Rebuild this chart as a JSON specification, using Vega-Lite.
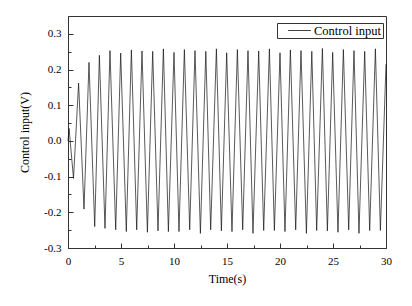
{
  "$schema": "https://vega.github.io/schema/vega-lite/v6.json",
  "width": 318,
  "height": 232,
  "autosize": {"type": "none"},
  "padding": {"left": 68, "top": 16, "right": 26, "bottom": 58},
  "background": "white",
  "config": {
    "view": {"stroke": "#333", "strokeWidth": 1},
    "font": "Liberation Serif"
  },
  "data": {
    "values": [
      {"t": 0, "v": 0.0}, {"t": 0.1, "v": 0.035}, {"t": 0.52, "v": -0.105}, {"t": 1.0, "v": 0.162},
      {"t": 1.51, "v": -0.191}, {"t": 1.98, "v": 0.22}, {"t": 2.52, "v": -0.24}, {"t": 2.96, "v": 0.24},
      {"t": 3.49, "v": -0.245}, {"t": 3.96, "v": 0.253}, {"t": 4.5, "v": -0.249}, {"t": 4.97, "v": 0.246},
      {"t": 5.5, "v": -0.254}, {"t": 5.98, "v": 0.255}, {"t": 6.48, "v": -0.249}, {"t": 6.98, "v": 0.252},
      {"t": 7.49, "v": -0.256}, {"t": 7.99, "v": 0.251}, {"t": 8.49, "v": -0.252}, {"t": 9.0, "v": 0.258},
      {"t": 9.47, "v": -0.254}, {"t": 10.0, "v": 0.248}, {"t": 10.47, "v": -0.254}, {"t": 10.98, "v": 0.256},
      {"t": 11.48, "v": -0.249}, {"t": 11.98, "v": 0.253}, {"t": 12.49, "v": -0.259}, {"t": 13.0, "v": 0.251},
      {"t": 13.46, "v": -0.249}, {"t": 14.0, "v": 0.258}, {"t": 14.47, "v": -0.252}, {"t": 14.97, "v": 0.247},
      {"t": 15.47, "v": -0.254}, {"t": 15.98, "v": 0.256}, {"t": 16.48, "v": -0.249}, {"t": 16.98, "v": 0.253},
      {"t": 17.45, "v": -0.259}, {"t": 17.99, "v": 0.252}, {"t": 18.46, "v": -0.251}, {"t": 19.0, "v": 0.258},
      {"t": 19.47, "v": -0.251}, {"t": 20.0, "v": 0.247}, {"t": 20.47, "v": -0.254}, {"t": 20.98, "v": 0.255},
      {"t": 21.48, "v": -0.249}, {"t": 21.98, "v": 0.253}, {"t": 22.49, "v": -0.259}, {"t": 23.0, "v": 0.251},
      {"t": 23.46, "v": -0.251}, {"t": 24.0, "v": 0.259}, {"t": 24.47, "v": -0.252}, {"t": 24.97, "v": 0.248},
      {"t": 25.47, "v": -0.256}, {"t": 25.98, "v": 0.256}, {"t": 26.48, "v": -0.249}, {"t": 26.98, "v": 0.253},
      {"t": 27.45, "v": -0.259}, {"t": 27.99, "v": 0.251}, {"t": 28.46, "v": -0.251}, {"t": 29.0, "v": 0.258},
      {"t": 29.47, "v": -0.251}, {"t": 30.0, "v": 0.215}
    ]
  },
  "mark": {"type": "line", "strokeWidth": 0.7},
  "encoding": {
    "x": {
      "field": "t",
      "type": "quantitative",
      "scale": {"domain": [0, 30], "nice": false, "zero": false},
      "axis": {
        "title": "Time(s)",
        "values": [0, 2.5, 5, 7.5, 10, 12.5, 15, 17.5, 20, 22.5, 25, 27.5, 30],
        "labelExpr": "datum.value % 5 === 0 ? datum.label : ''",
        "grid": false,
        "domainColor": "#333",
        "tickColor": "#333",
        "tickSize": {"condition": {"test": "datum.value % 5 === 0", "value": -5}, "value": -3},
        "labelFont": "Liberation Serif",
        "labelFontSize": 11,
        "labelColor": "black",
        "labelPadding": 12,
        "labelFlush": false,
        "labelOverlap": false,
        "titleFont": "Liberation Serif",
        "titleFontSize": 12,
        "titleFontWeight": "normal",
        "titleColor": "black",
        "titlePadding": 5
      }
    },
    "y": {
      "field": "v",
      "type": "quantitative",
      "scale": {"domain": [-0.3, 0.35], "nice": false, "zero": false},
      "axis": {
        "title": "Control input(V)",
        "values": [-0.3, -0.25, -0.2, -0.15, -0.1, -0.05, 0, 0.05, 0.1, 0.15, 0.2, 0.25, 0.3, 0.35],
        "labelExpr": "abs(round(datum.value * 20)) % 2 === 0 ? replace(format(datum.value, '.1f'), '\u2212', '-') : ''",
        "grid": false,
        "domainColor": "#333",
        "tickColor": "#333",
        "tickSize": {"condition": {"test": "abs(round(datum.value * 20)) % 2 === 0", "value": -5}, "value": -3},
        "labelFont": "Liberation Serif",
        "labelFontSize": 11,
        "labelColor": "black",
        "labelPadding": 12,
        "labelFlush": false,
        "labelOverlap": false,
        "titleFont": "Liberation Serif",
        "titleFontSize": 12,
        "titleFontWeight": "normal",
        "titleColor": "black",
        "titlePadding": 12
      }
    },
    "color": {
      "datum": "Control input",
      "scale": {"range": ["#111"]},
      "legend": {
        "orient": "none",
        "legendX": 209,
        "legendY": 7,
        "title": null,
        "symbolType": "M-2,0H2",
        "symbolStrokeWidth": 0.8,
        "symbolSize": 130,
        "symbolOffset": 15,
        "labelOffset": 8,
        "labelFont": "Liberation Serif",
        "labelFontSize": 12.5,
        "labelColor": "black",
        "strokeColor": "#333",
        "fillColor": "white",
        "padding": 1
      }
    }
  }
}
